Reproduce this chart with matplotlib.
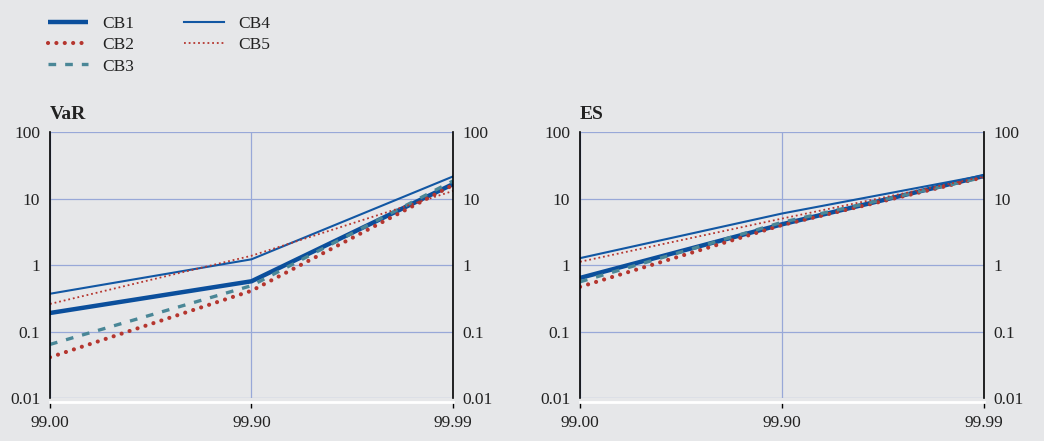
import matplotlib
matplotlib.use("Agg")
import matplotlib.pyplot as plt
from matplotlib.lines import Line2D

plt.rcParams['font.family'] = ['Liberation Serif', 'DejaVu Serif']

categories = ["99.00", "99.90", "99.99"]
series_names = ["CB1", "CB2", "CB3", "CB4", "CB5"]

var_cb1 = [0.19, 0.57, 16.5]
var_cb2 = [0.041, 0.41, 16.0]
var_cb3 = [0.064, 0.49, 18.4]
var_cb4 = [0.37, 1.22, 21.5]
var_cb5 = [0.26, 1.38, 13.0]

es_cb1 = [0.64, 4.1, 21.9]
es_cb2 = [0.47, 4.0, 21.0]
es_cb3 = [0.56, 4.4, 21.0]
es_cb4 = [1.27, 5.96, 22.4]
es_cb5 = [1.12, 5.0, 21.4]

yticks = [0.01, 0.1, 1, 10, 100]
ytick_labels = ["0.01", "0.1", "1", "10", "100"]

BG = "#e6e7e9"
GRID = "#98a8d8"
TXT = "#222222"
styles = {
    "CB1": dict(color="#0b4f9c", lw=3.2, ls="-", solid_capstyle="butt"),
    "CB2": dict(color="#b5362f", lw=3.0, ls=(0, (0.01, 2.0)), dash_capstyle="round"),
    "CB3": dict(color="#4a8797", lw=2.4, ls=(0, (2.3, 2.7)), dash_capstyle="butt"),
    "CB4": dict(color="#1257a3", lw=1.5, ls="-"),
    "CB5": dict(color="#b5362f", lw=1.3, ls=(0, (1, 1.6))),
}

fig = plt.figure(figsize=(10.44, 4.41), dpi=100, facecolor=BG)

def panel(rect, title, data):
    ax = fig.add_axes(rect, facecolor=BG)
    x = list(range(len(categories)))
    for name, vals in zip(series_names, data):
        ax.plot(x, vals, **styles[name], clip_on=True)
    ax.set_yscale("log")
    ax.set_ylim(0.01, 100)
    ax.set_xlim(0, len(categories) - 1)
    ax.set_xticks(x)
    ax.set_xticklabels(categories)
    ax.set_yticks(yticks)
    ax.set_yticklabels(ytick_labels)
    ax.yaxis.set_minor_locator(matplotlib.ticker.NullLocator())
    ax.tick_params(axis="y", left=False, right=False, labelleft=True, labelright=True,
                   length=0, pad=7, labelsize=12.5, labelcolor=TXT)
    ax.tick_params(axis="x", length=4, width=1, color="black", pad=5, direction="out",
                   labelsize=12.5, labelcolor=TXT)
    ax.grid(True, which="major", color=GRID, lw=0.9)
    ax.set_axisbelow(True)
    for s in ["left", "right"]:
        ax.spines[s].set_color("black")
        ax.spines[s].set_linewidth(1.2)
    ax.spines["top"].set_visible(False)
    ax.spines["bottom"].set_color("white")
    ax.spines["bottom"].set_linewidth(2)
    ax.spines["bottom"].set_position(("outward", 3))
    ax.text(0.0, 1.035, title, transform=ax.transAxes, fontsize=14,
            fontweight="bold", ha="left", va="bottom", color=TXT)
    return ax

panel([0.0479, 0.0975, 0.386, 0.603], "VaR",
      [var_cb1, var_cb2, var_cb3, var_cb4, var_cb5])
panel([0.5556, 0.0975, 0.387, 0.603], "ES",
      [es_cb1, es_cb2, es_cb3, es_cb4, es_cb5])

handles = [Line2D([], [], **styles[n]) for n in series_names]
fig.legend(handles, series_names, loc="upper left", bbox_to_anchor=(0.031, 1.0),
           ncol=2, frameon=False, fontsize=12.5, handlelength=2.3,
           columnspacing=2.9, labelspacing=0.3, handletextpad=0.8,
           labelcolor=TXT)

fig.savefig("out.png", dpi=100, facecolor=BG)
